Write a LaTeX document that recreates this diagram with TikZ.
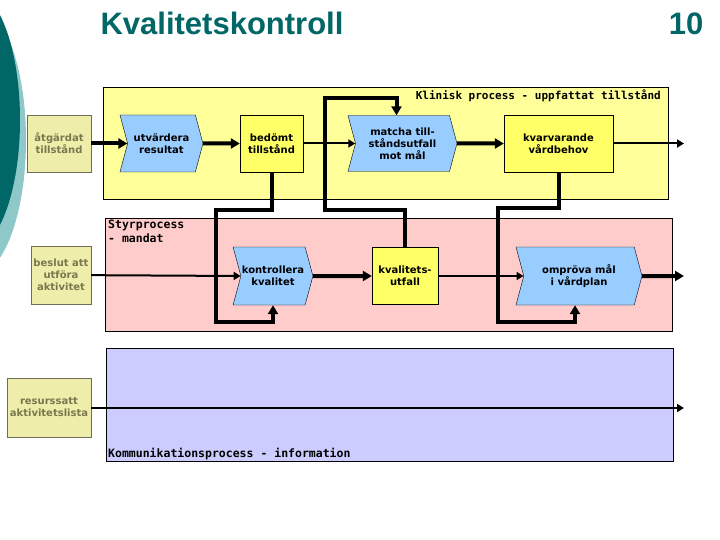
\documentclass[tikz,border=0pt]{standalone}
\usepackage{fontspec}
\setmainfont{DejaVu Sans}
\setmonofont{DejaVu Sans Mono}
\newfontfamily\headfont{Liberation Sans}
\usepackage{tikz}
\usetikzlibrary{shapes.symbols}
\usetikzlibrary{arrows.meta}

\definecolor{teal}{RGB}{0,102,102}
\definecolor{lightteal}{RGB}{143,200,200}
\definecolor{klinisk}{RGB}{255,255,153}
\definecolor{styr}{RGB}{255,204,204}
\definecolor{komm}{RGB}{204,204,255}
\definecolor{procblue}{RGB}{153,204,255}
\definecolor{stateyellow}{RGB}{255,255,102}
\definecolor{givenfill}{RGB}{238,238,170}
\definecolor{givenedge}{RGB}{110,110,90}
\definecolor{giventext}{RGB}{120,120,80}

\begin{document}
\begin{tikzpicture} [
    x=1pt, y=-1pt,
    lane/.style = {draw, line width=0.8pt},
    proc/.style = {draw, signal, signal from=west, signal to=east,
                   signal pointer angle=150, fill=procblue, align=center,
                   inner sep=1pt, font=\bfseries\fontsize{10}{12}\selectfont},
    state/.style = {draw, fill=stateyellow, align=center, inner sep=1pt,
                    font=\bfseries\fontsize{10}{12}\selectfont},
    given/.style = {draw=givenedge, fill=givenfill, text=giventext, align=center,
                    inner sep=1pt, font=\bfseries\fontsize{10}{12}\selectfont},
    lanetitle/.style = {inner sep=0pt, align=left,
                        font=\ttfamily\bfseries\fontsize{11.5}{14}\selectfont},
    thickflow/.style = {line width=4pt, -{Triangle[length=9pt,width=10pt]}},
    thinflow/.style = {line width=2pt, -{Triangle[length=7pt,width=8pt]}}
    ]
    \useasboundingbox (0,0) rectangle (720,540);

    % slide decoration
    \fill[lightteal] (-25,140) ellipse [x radius=51pt, y radius=135pt];
    \fill[teal] (-28.8,120) ellipse [x radius=48.8pt, y radius=130pt];
    \node[font=\headfont\bfseries\fontsize{31}{31}\selectfont, text=teal, anchor=base]
        (title) at (222,35) {Kvalitetskontroll};
    \node[font=\headfont\bfseries\fontsize{31}{31}\selectfont, text=teal, anchor=base east]
        (pagenr) at (707,35) {10};

    % lanes
    \draw[lane, fill=klinisk] (103,87) rectangle (668,199);
    \draw[lane, fill=styr] (105,218) rectangle (672,331);
    \draw[lane, fill=komm] (106,348) rectangle (673,461);
    \node[lanetitle, font=\ttfamily\bfseries\fontsize{11}{14}\selectfont, anchor=base east]
        (klinisktitle) at (661,100) {Klinisk process - uppfattat tillstånd};
    \node[lanetitle, anchor=north west] (styrtitle) at (108,220) {Styrprocess\\- mandat};
    \node[lanetitle, anchor=base west] (kommtitle) at (108,457) {Kommunikationsprocess - information};

    % inputs
    \node[given, minimum width=64pt, minimum height=57pt] (atgard) at (59,143.5) {åtgärdat\\tillstånd};
    \node[given, minimum width=60pt, minimum height=58pt] (beslut) at (61,275) {beslut att\\utföra\\aktivitet};
    \node[given, minimum width=84pt, minimum height=59pt] (resurs) at (49,407.5) {resurssatt\\aktivitetslista};

    % klinisk process
    \node[proc, minimum width=83pt, minimum height=57pt] (utvardera) at (161.5,143.5) {utvärdera\\resultat};
    \node[state, minimum width=63pt, minimum height=57pt] (bedomt) at (271.5,143.5) {bedömt\\tillstånd};
    \node[proc, minimum width=109pt, minimum height=56pt] (matcha) at (402.5,143.5) {matcha till-\\ståndsutfall\\mot mål};
    \node[state, minimum width=109pt, minimum height=57pt] (kvarv) at (558.5,143.5) {kvarvarande\\vårdbehov};

    % styrprocess
    \node[proc, minimum width=78pt, minimum height=58pt] (kontroll) at (273,276) {kontrollera\\kvalitet};
    \node[state, minimum width=66pt, minimum height=57pt] (utfall) at (405,276) {kvalitets-\\utfall};
    \node[proc, minimum width=126pt, minimum height=58pt] (omprova) at (579,276) {ompröva mål\\i vårdplan};

    \coordinate (out1) at (684,143.5);
    \coordinate (out2) at (684,276);
    \coordinate (out3) at (684,408);

    % flows
    \draw[thickflow] (atgard) -- (utvardera.west);
    \draw[thickflow] (utvardera) -- (bedomt);
    \draw[thinflow] (bedomt) -- (matcha.west);
    \draw[thickflow] (matcha) -- (kvarv);
    \draw[thinflow] (kvarv) -- (out1);
    \draw[thinflow] (beslut) -- (kontroll.west);
    \draw[thickflow] (kontroll) -- (utfall);
    \draw[thinflow] (utfall) -- (omprova.west);
    \draw[thickflow] (omprova) -- (out2);
    \draw[thinflow] (resurs.east |- out3) -- (out3);

    % feedback loops
    \draw[thickflow] (bedomt.south) |- (216,210) -- (216,322) -| (kontroll.south);
    \draw[thickflow] (utfall.north) |- (325,210) -- (325,98) -| ([xshift=-6pt]matcha.north);
    \draw[thickflow] (kvarv.south) |- (498,208) -- (498,322) -| ([xshift=-4pt]omprova.south);
  \end{tikzpicture}
\end{document}
